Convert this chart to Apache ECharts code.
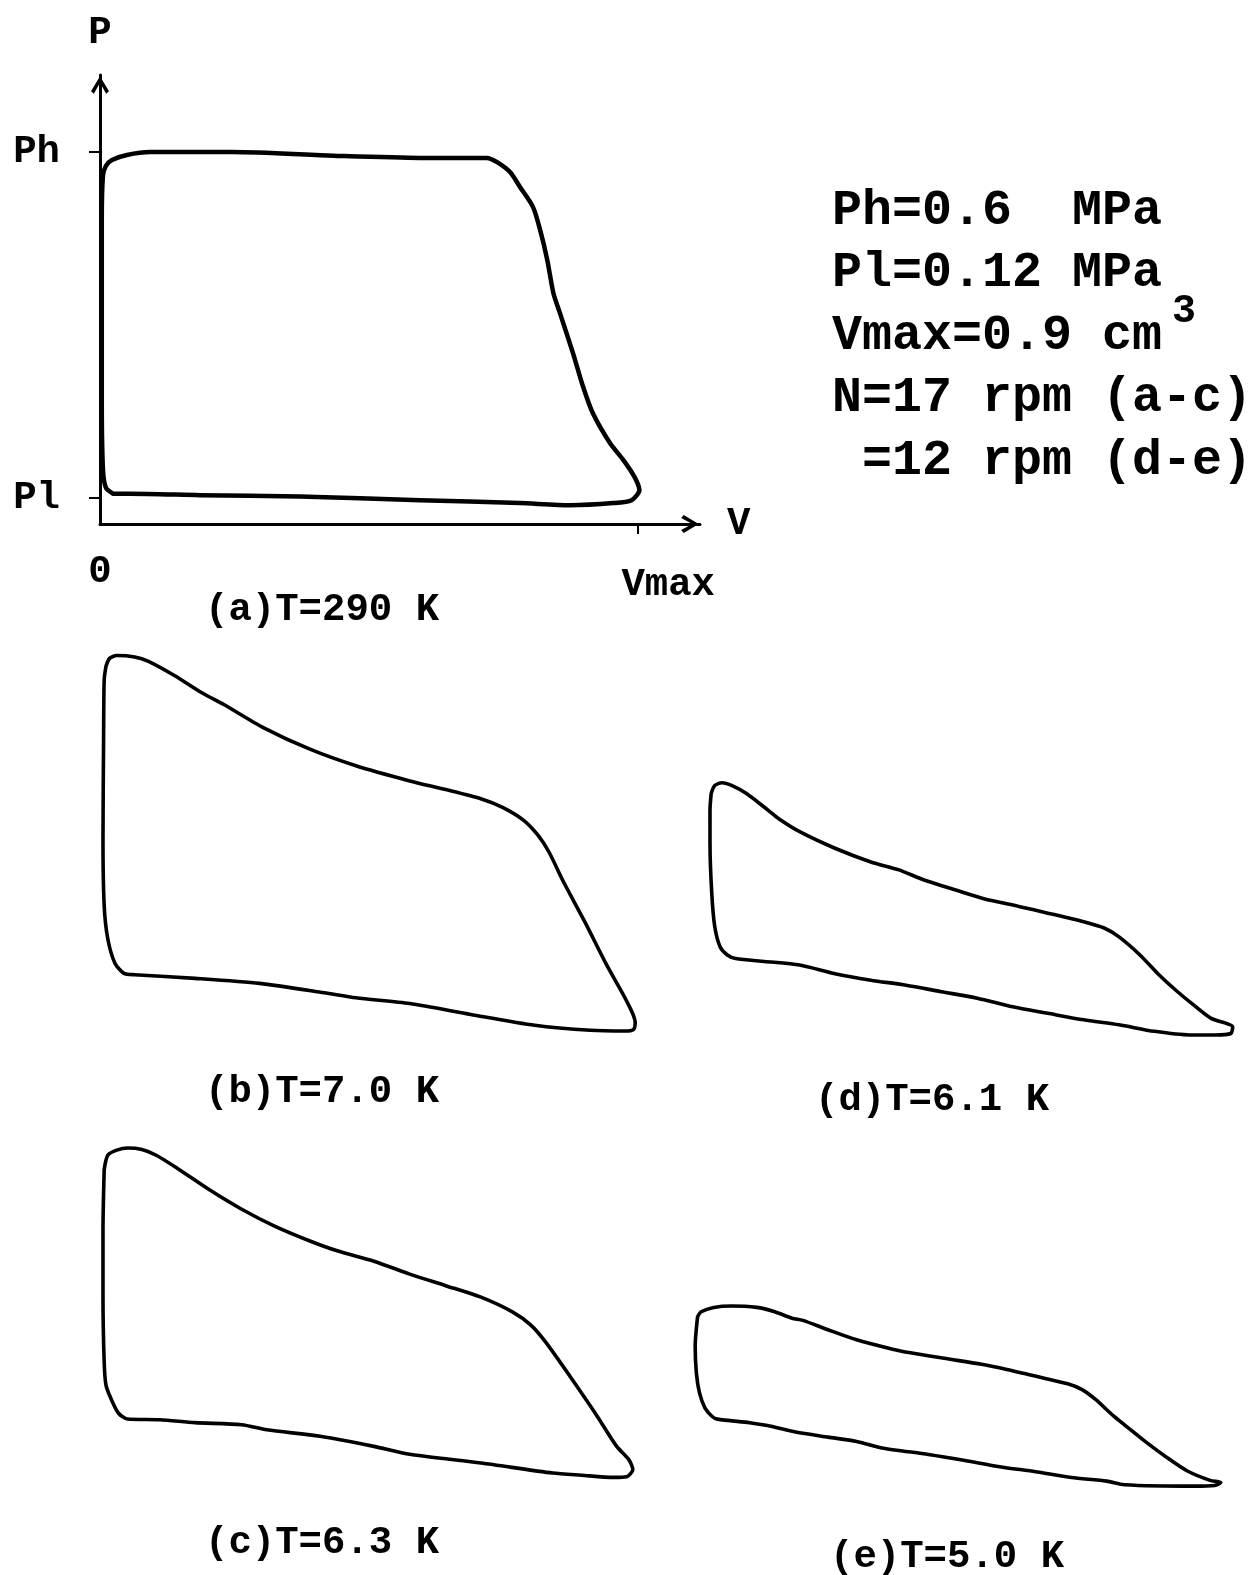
<!DOCTYPE html>
<html>
<head>
<meta charset="utf-8">
<title>P-V diagrams</title>
<script src="https://cdn.jsdelivr.net/npm/echarts@6/dist/echarts.min.js"></script>
<style>
html, body { margin: 0; padding: 0; background: #fff; }
#chart { width: 1257px; height: 1575px; }
</style>
</head>
<body>
<div id="chart"></div>
<script>
// loops: [V (cm3), P (MPa)]
const loopA = [[0.022,0.126],[0.010,0.134],[0.005,0.159],[0.003,0.256],[0.003,0.395],[0.003,0.506],[0.005,0.568],[0.010,0.581],[0.020,0.589],[0.045,0.596],[0.084,0.600],[0.222,0.600],[0.390,0.595],[0.535,0.592],[0.647,0.592],[0.664,0.586],[0.686,0.572],[0.702,0.552],[0.724,0.524],[0.736,0.492],[0.748,0.450],[0.758,0.405],[0.769,0.377],[0.791,0.321],[0.808,0.274],[0.824,0.238],[0.853,0.196],[0.875,0.173],[0.894,0.149],[0.902,0.131],[0.889,0.117],[0.858,0.113],[0.786,0.110],[0.702,0.113],[0.535,0.117],[0.334,0.122],[0.167,0.124],[0.050,0.126],[0.022,0.126]];
const loopB = [[0.010,0.615],[0.016,0.626],[0.028,0.630],[0.058,0.628],[0.081,0.622],[0.123,0.603],[0.171,0.578],[0.207,0.562],[0.273,0.530],[0.351,0.500],[0.428,0.477],[0.518,0.456],[0.578,0.444],[0.638,0.431],[0.674,0.419],[0.709,0.401],[0.733,0.380],[0.751,0.357],[0.775,0.316],[0.811,0.260],[0.847,0.201],[0.881,0.150],[0.895,0.121],[0.892,0.111],[0.877,0.109],[0.820,0.110],[0.727,0.117],[0.620,0.132],[0.518,0.147],[0.428,0.155],[0.375,0.162],[0.267,0.175],[0.159,0.182],[0.058,0.187],[0.040,0.189],[0.025,0.203],[0.013,0.237],[0.007,0.283],[0.005,0.375],[0.006,0.513],[0.007,0.596],[0.010,0.615]];
const loopC = [[0.007,0.541],[0.013,0.561],[0.028,0.568],[0.046,0.571],[0.070,0.569],[0.094,0.561],[0.129,0.543],[0.183,0.513],[0.237,0.486],[0.291,0.463],[0.351,0.442],[0.398,0.428],[0.458,0.414],[0.518,0.396],[0.578,0.380],[0.637,0.364],[0.691,0.343],[0.721,0.325],[0.745,0.302],[0.787,0.253],[0.829,0.202],[0.864,0.157],[0.884,0.139],[0.891,0.125],[0.881,0.115],[0.859,0.114],[0.805,0.117],[0.757,0.120],[0.637,0.134],[0.518,0.146],[0.458,0.157],[0.368,0.171],[0.279,0.180],[0.237,0.187],[0.159,0.190],[0.100,0.194],[0.046,0.195],[0.031,0.203],[0.019,0.222],[0.010,0.242],[0.007,0.274],[0.005,0.366],[0.005,0.458],[0.007,0.541]];
const loopD = [[0.007,0.451],[0.013,0.462],[0.025,0.466],[0.042,0.462],[0.066,0.451],[0.102,0.428],[0.120,0.416],[0.155,0.398],[0.214,0.375],[0.274,0.356],[0.321,0.345],[0.363,0.331],[0.416,0.317],[0.463,0.305],[0.523,0.294],[0.570,0.285],[0.630,0.273],[0.665,0.264],[0.689,0.252],[0.724,0.227],[0.754,0.201],[0.784,0.178],[0.813,0.158],[0.843,0.139],[0.879,0.127],[0.876,0.118],[0.849,0.116],[0.807,0.116],[0.748,0.121],[0.689,0.130],[0.630,0.137],[0.570,0.146],[0.511,0.155],[0.452,0.167],[0.392,0.176],[0.333,0.185],[0.274,0.192],[0.214,0.201],[0.155,0.213],[0.096,0.218],[0.048,0.222],[0.034,0.227],[0.022,0.238],[0.013,0.266],[0.008,0.312],[0.005,0.382],[0.005,0.428],[0.007,0.451]];
const loopE = [[0.011,0.341],[0.017,0.348],[0.038,0.354],[0.068,0.356],[0.110,0.354],[0.140,0.348],[0.169,0.339],[0.187,0.336],[0.229,0.323],[0.277,0.309],[0.337,0.296],[0.367,0.291],[0.426,0.283],[0.486,0.275],[0.528,0.268],[0.564,0.261],[0.594,0.255],[0.630,0.248],[0.654,0.240],[0.677,0.226],[0.707,0.203],[0.737,0.183],[0.761,0.167],[0.797,0.145],[0.830,0.127],[0.868,0.114],[0.886,0.111],[0.876,0.107],[0.840,0.106],[0.725,0.108],[0.695,0.113],[0.636,0.118],[0.576,0.126],[0.516,0.133],[0.456,0.142],[0.397,0.150],[0.319,0.159],[0.277,0.168],[0.229,0.174],[0.175,0.181],[0.128,0.190],[0.098,0.194],[0.044,0.199],[0.035,0.203],[0.023,0.215],[0.014,0.236],[0.009,0.263],[0.007,0.300],[0.011,0.341]];

const pTickValues = [0.12, 0.6];
const pTickNames = ['Pl', 'Ph'];
const vTickValues = [0, 0.9];
const vTickNames = ['0', 'Vmax'];
const panelNames = ['(a)T=290 K', '(b)T=7.0 K', '(c)T=6.3 K', '(d)T=6.1 K', '(e)T=5.0 K'];
const noteLines = ['Ph=0.6  MPa', 'Pl=0.12 MPa', 'Vmax=0.9 cm', 'N=17 rpm (a-c)', ' =12 rpm (d-e)'];

// same scale for every panel (px per unit)
const PX_V = 598, PX_P = 720.7;
const P_MIN = 0.084, P_MAX = 0.707;
const FONT = '"Liberation Mono", "Courier New", monospace';
const chevron = 'path://M5,0L10,8.4L8.4,9.8L5,3.6L1.6,9.8L0,8.4Z';

const panels = [
  { data: loopA, left: 100, top: 75, vMax: 600 / PX_V, lw: 4.5, label: [205, 610] },
  { data: loopB, left: 100, top: 600, vMax: 0.9, lw: 3.6, label: [205, 1092] },
  { data: loopC, left: 100, top: 1050, vMax: 0.9, lw: 3.6, label: [205, 1543] },
  { data: loopD, left: 707, top: 609, vMax: 0.9, lw: 3.6, label: [815, 1100] },
  { data: loopE, left: 691, top: 1053, vMax: 0.9, lw: 3.6, label: [830, 1557] }
];

const chart = echarts.init(document.getElementById('chart'));

const grid = panels.map(p => ({
  left: p.left, top: p.top,
  width: p.vMax * PX_V, height: (P_MAX - P_MIN) * PX_P
}));

const xAxis = panels.map((p, i) => {
  if (i > 0) return { type: 'value', gridIndex: i, min: 0, max: p.vMax, show: false };
  return {
    type: 'value', gridIndex: 0, min: 0, max: p.vMax,
    name: 'V', nameLocation: 'end', nameGap: 27,
    nameTextStyle: { color: '#000', fontFamily: FONT, fontWeight: 'bold', fontSize: 39, padding: [8, 0, 0, 0] },
    axisLine: { onZero: false, symbol: ['none', chevron], symbolSize: [18, 20], symbolOffset: [0, -10],
      lineStyle: { color: '#000', width: 3 } },
    axisTick: { show: true, customValues: [vTickValues[1]], length: 10, lineStyle: { color: '#000', width: 2 } },
    axisLabel: {
      customValues: vTickValues, margin: 29,
      formatter: v => vTickValues.indexOf(v) === 0 ? '{z|' + vTickNames[0] + '}' : '{v|' + vTickNames[1] + '}',
      rich: {
        z: { fontFamily: FONT, fontWeight: 'bold', fontSize: 39, color: '#000' },
        v: { fontFamily: FONT, fontWeight: 'bold', fontSize: 39, color: '#000', padding: [13, 0, 0, 60] }
      }
    },
    splitLine: { show: false }
  };
});

const yAxis = panels.map((p, i) => {
  if (i > 0) return { type: 'value', gridIndex: i, min: P_MIN, max: P_MAX, show: false };
  return {
    type: 'value', gridIndex: 0, min: P_MIN, max: P_MAX,
    name: 'P', nameLocation: 'end', nameGap: 22,
    nameTextStyle: { color: '#000', fontFamily: FONT, fontWeight: 'bold', fontSize: 39 },
    axisLine: { onZero: false, symbol: ['none', chevron], symbolSize: [18, 20], symbolOffset: [0, -10],
      lineStyle: { color: '#000', width: 3 } },
    axisTick: { show: true, customValues: pTickValues, length: 11, lineStyle: { color: '#000', width: 2 } },
    axisLabel: {
      customValues: pTickValues, margin: 40, padding: [8, 0, 0, 0],
      color: '#000', fontFamily: FONT, fontWeight: 'bold', fontSize: 39,
      formatter: v => pTickNames[pTickValues.indexOf(v)]
    },
    splitLine: { show: false }
  };
});

const series = panels.map((p, i) => ({
  type: 'line', xAxisIndex: i, yAxisIndex: i,
  data: p.data, showSymbol: false, symbol: 'none',
  smooth: 0.25, clip: false,
  lineStyle: { color: '#000', width: p.lw, join: 'round', cap: 'round' }
}));

const graphic = [];
panels.forEach((p, i) => {
  graphic.push({
    type: 'text', x: p.label[0], y: p.label[1],
    style: { text: panelNames[i], fill: '#000', font: 'bold 39px ' + FONT, textVerticalAlign: 'middle' }
  });
});
noteLines.forEach((t, i) => {
  graphic.push({
    type: 'text', x: 832, y: 211 + i * 62.5,
    style: { text: t, fill: '#000', font: 'bold 50px ' + FONT, textVerticalAlign: 'middle' }
  });
});
graphic.push({
  type: 'text', x: 1172, y: 312,
  style: { text: '3', fill: '#000', font: 'bold 40px ' + FONT, textVerticalAlign: 'middle' }
});

chart.setOption({
  animation: false,
  backgroundColor: '#fff',
  grid: grid,
  xAxis: xAxis,
  yAxis: yAxis,
  series: series,
  graphic: graphic
});
</script>
</body>
</html>
